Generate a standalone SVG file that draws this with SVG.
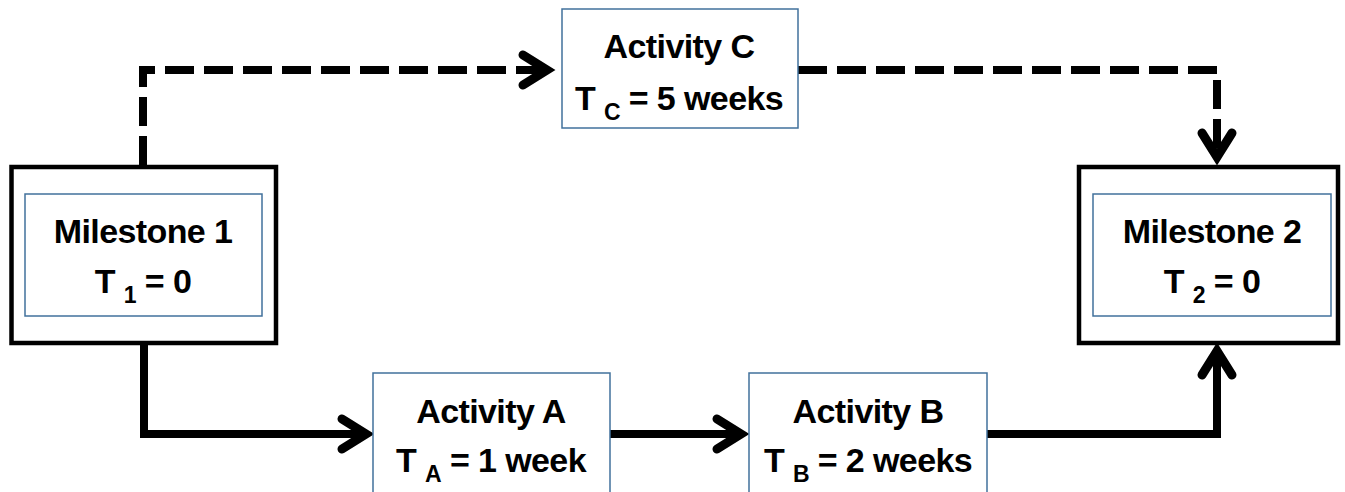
<svg xmlns="http://www.w3.org/2000/svg" width="1345" height="492" viewBox="0 0 1345 492">
  <style>
    .outer { fill: #ffffff; stroke: #000000; stroke-width: 4.5; }
    .inner { fill: #ffffff; stroke: #41719C; stroke-width: 1.5; }
    .label { font-family: "Liberation Sans", Arial, sans-serif; font-weight: bold; font-size: 34px; letter-spacing: -0.6px; fill: #000000; text-anchor: middle; }
    .sub { font-size: 23px; }
    .link { fill: none; stroke: #000000; stroke-width: 8; }
    .dashed { stroke-dasharray: 29 10; }
  </style>
  <defs>
    <!-- open chevron arrowhead, tip about 10px past the path end -->
    <marker id="chevron" markerUnits="userSpaceOnUse" viewBox="-40 -30 60 60" markerWidth="60" markerHeight="60" refX="0" refY="0" orient="auto" overflow="visible">
      <path d="M-22,-15 L2,0 L-22,15" fill="none" stroke="#000000" stroke-width="9" stroke-linecap="round" stroke-linejoin="miter" stroke-miterlimit="10"/>
    </marker>
  </defs>

  <rect width="1345" height="492" fill="#ffffff"/>

  <g id="connectors">
    <path class="link dashed" d="M143,165 V70 H545" marker-end="url(#chevron)"/>
    <path class="link dashed" d="M798,70 H1217 V155" marker-end="url(#chevron)"/>
    <path class="link" d="M144,345 V434 H364" marker-end="url(#chevron)"/>
    <path class="link" d="M610,434 H739" marker-end="url(#chevron)"/>
    <path class="link" d="M987,434 H1217 V353" marker-end="url(#chevron)"/>
  </g>

  <g id="milestone1">
    <rect class="outer" x="11.5" y="167" width="264.5" height="176"/>
    <rect class="inner" x="25" y="194" width="237" height="122"/>
    <text class="label" x="143" y="243">Milestone 1</text>
    <text class="label" x="143" y="293">T <tspan class="sub" dy="10">1</tspan><tspan dy="-10"> = 0</tspan></text>
  </g>

  <g id="milestone2">
    <rect class="outer" x="1079" y="167" width="259" height="176"/>
    <rect class="inner" x="1093" y="194" width="238" height="122"/>
    <text class="label" x="1212" y="243">Milestone 2</text>
    <text class="label" x="1212" y="293">T <tspan class="sub" dy="10">2</tspan><tspan dy="-10"> = 0</tspan></text>
  </g>

  <g id="activityC">
    <rect class="inner" x="562" y="9" width="236" height="119"/>
    <text class="label" x="679" y="58">Activity C</text>
    <text class="label" x="679" y="110">T <tspan class="sub" dy="10">C</tspan><tspan dy="-10"> = 5 weeks</tspan></text>
  </g>

  <g id="activityA">
    <rect class="inner" x="373" y="373" width="237" height="130"/>
    <text class="label" x="491" y="423">Activity A</text>
    <text class="label" x="491" y="472">T <tspan class="sub" dy="10">A</tspan><tspan dy="-10"> = 1 week</tspan></text>
  </g>

  <g id="activityB">
    <rect class="inner" x="749" y="373" width="238" height="130"/>
    <text class="label" x="868" y="423">Activity B</text>
    <text class="label" x="868" y="472">T <tspan class="sub" dy="10">B</tspan><tspan dy="-10"> = 2 weeks</tspan></text>
  </g>
</svg>
